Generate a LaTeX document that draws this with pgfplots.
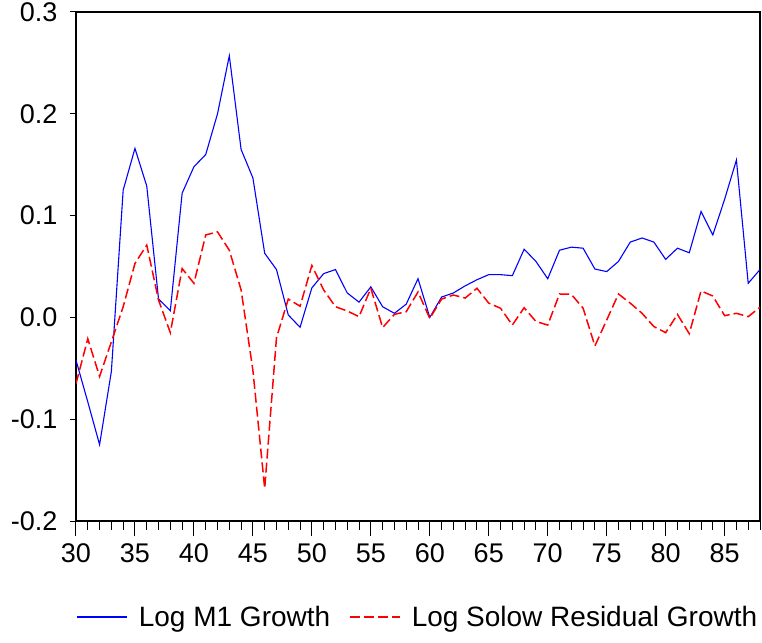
\documentclass[border=0pt]{standalone}
\usepackage{fontspec}
\setmainfont{Liberation Sans}
\usepackage{pgfplots}
\pgfplotsset{compat=1.18}
\pgfplotstableread{
yr m1 solow
30 -0.042 -0.065
31 -0.083 -0.021
32 -0.125 -0.058
33 -0.053 -0.024
34 0.125 0.0105
35 0.166 0.053
36 0.129 0.071
37 0.018 0.017
38 0.0066 -0.015
39 0.122 0.048
40 0.148 0.0335
41 0.160 0.081
42 0.200 0.084
43 0.257 0.066
44 0.165 0.027
45 0.137 -0.052
46 0.063 -0.168
47 0.047 -0.020
48 0.0024 0.018
49 -0.0097 0.011
50 0.029 0.051
51 0.043 0.027
52 0.047 0.0105
53 0.024 0.0063
54 0.015 0.0007
55 0.030 0.0286
56 0.0105 -0.010
57 0.004 0.003
58 0.013 0.0056
59 0.038 0.025
60 0.000 -0.001
61 0.020 0.018
62 0.024 0.022
63 0.031 0.019
64 0.037 0.0286
65 0.042 0.014
66 0.042 0.009
67 0.041 -0.0075
68 0.067 0.0095
69 0.055 -0.004
70 0.038 -0.0075
71 0.066 0.023
72 0.069 0.0227
73 0.068 0.009
74 0.0475 -0.028
75 0.045 -0.0026
76 0.055 0.023
77 0.074 0.014
78 0.078 0.004
79 0.074 -0.009
80 0.057 -0.015
81 0.068 0.003
82 0.0635 -0.016
83 0.104 0.026
84 0.081 0.021
85 0.116 0.0017
86 0.1546 0.004
87 0.0335 0.0007
88 0.047 0.010
}\data
\begin{document}
\begin{tikzpicture}
\path[use as bounding box] (-76pt,-121pt) rectangle (686pt,521pt);
\begin{axis}[
  at={(0pt,0pt)}, anchor=south west,
  scale only axis, width=684pt, height=509pt,
  xmin=30, xmax=88, ymin=-0.2, ymax=0.3,
  xtick={30,35,...,85}, minor xtick={31,...,88},
  ytick={-0.2,-0.1,0,0.1,0.2,0.3},
  yticklabels={-0.2,-0.1,0.0,0.1,0.2,0.3},
  xticklabels={30,35,40,45,50,55,60,65,70,75,80,85},
  tick pos=left, tick align=outside,
  major tick length=15pt, minor tick length=9pt,
  ytick style={/pgfplots/major tick length=6pt},
  tick style={black, line width=1pt},
  axis line style={black, line width=1.2pt},
  ticklabel style={font=\fontsize{27}{31}\selectfont},
  xticklabel style={yshift=-4pt},
  legend style={draw=none, fill=none, at={(0.5,-0.1886)}, anchor=center,
    font=\fontsize{28}{32}\selectfont, legend columns=2,
    /tikz/every odd column/.append style={column sep=9pt},
    /tikz/every even column/.append style={column sep=17pt}},
  legend image code/.code={\draw[#1] (0pt,0pt) -- (50pt,0pt);},
  legend cell align=left,
]
\addplot[blue, line width=1.1pt] table[x=yr, y=m1] {\data};
\addlegendentry{Log M1 Growth}
\addplot[red, line width=1.5pt, dash pattern=on 10pt off 4pt] table[x=yr, y=solow] {\data};
\addlegendentry{Log Solow Residual Growth}
\end{axis}
\end{tikzpicture}
\end{document}
